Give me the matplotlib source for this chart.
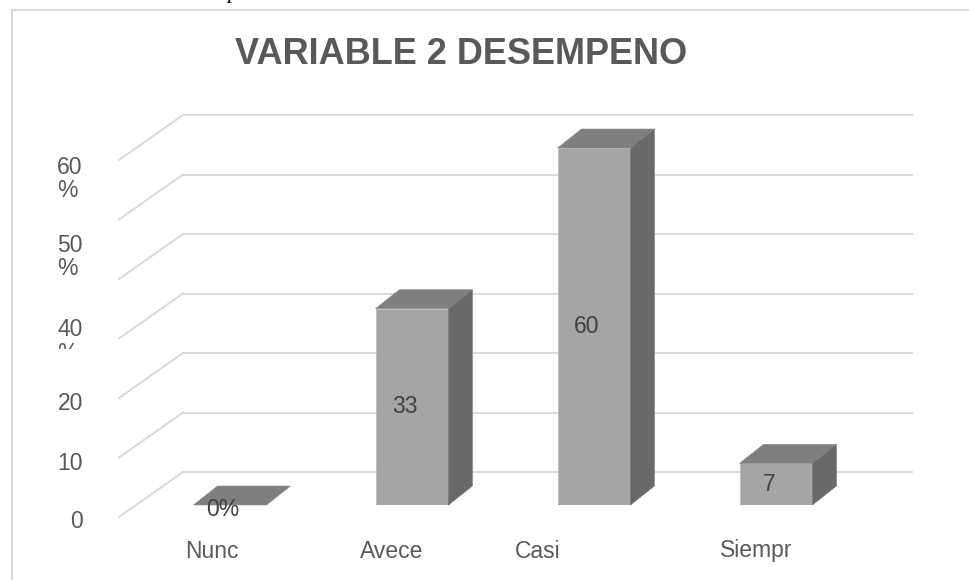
import numpy as np
import matplotlib
matplotlib.use("Agg")
import matplotlib.pyplot as plt
from matplotlib.patches import Polygon
from matplotlib.lines import Line2D
from matplotlib.transforms import Bbox, TransformedBbox

plt.rcParams['font.family'] = ['Liberation Sans', 'DejaVu Sans']

# data
categorias = ['Nunc', 'Avece', 'Casi', 'Siempr']
valores = [0, 33, 60, 7]
etiquetas = ['0%', '33', '60', '7']
ticks_y = [0, 10, 20, 30, 40, 50, 60]
ticks_txt = ['0', '10', '20', '40\n%', '50\n%', '60\n%']

W, H = 969, 580
fig = plt.figure(figsize=(W / 100, H / 100), dpi=100)

# axes placed so that bar fronts sit where the reference has them
ax = fig.add_axes([139 / W, (H - 505) / H, 728 / W, 357 / H])
ax.set_xlim(-0.5, 3.5)
ax.set_ylim(0, 60)
ax.axis('off')

px_x = 182.0        # pixels per category
px_y = 357.0 / 60   # pixels per unit

def dx(p):
    return p / px_x

def dy(p):
    return p / px_y

grid_c = '#d9d9d9'
front_c = '#a5a5a5'
top_c = '#7f7f7f'
side_c = '#696969'

# back wall gridlines + side diagonals
xb0 = dx(183 - 139) - 0.5
xb1 = dx(912 - 139) - 0.5
for v in ticks_y:
    yb = v + dy(33)
    ax.plot([xb0, xb1], [yb, yb], color=grid_c, lw=1.4, clip_on=False, zorder=1)
    ax.plot([xb0 + dx(-64), xb0], [v + dy(-12), yb], color=grid_c, lw=1.4,
            clip_on=False, zorder=1)

# bars
bw = 73 / px_x
DX, DY = dx(24), dy(19)
x = np.arange(len(categorias))
ax.bar(x, valores, width=bw, color=front_c, edgecolor='#b4b4b4', lw=0.4, zorder=3)
for i, v in enumerate(valores):
    x0, x1 = i - bw / 2, i + bw / 2
    top = [(x0, v), (x1, v), (x1 + DX, v + DY), (x0 + DX, v + DY)]
    ax.add_patch(Polygon(top, closed=True, fc=top_c, ec='#8a8a8a', lw=0.4,
                         zorder=4, clip_on=False))
    if v > 0:
        side = [(x1, 0), (x1 + DX, DY), (x1 + DX, v + DY), (x1, v)]
        ax.add_patch(Polygon(side, closed=True, fc=side_c, ec='#7a7a7a', lw=0.4,
                             zorder=4, clip_on=False))
    ly = v / 2 if v > 0 else dy(-4)
    ax.text(i - dx(7), ly, etiquetas[i], ha='center', va='center',
            fontsize=16.5, color='#404040', zorder=6, clip_on=False)

# y labels (as shown in the reference)
txt_col = '#595959'
ypos = [521, 463, 403, 341.5, 257, 179]
for t, yp in zip(ticks_txt, ypos):
    if '\n' in t:
        tt = fig.text(57 / W, 1 - yp / H, t, ha='left', va='center',
                      fontsize=16.5, color=txt_col, linespacing=1.0,
                      multialignment='left')
        if t.startswith('40'):
            clip = TransformedBbox(Bbox.from_extents(0, 0, 1, 1 - 349 / H),
                                   fig.transFigure)
            clip = TransformedBbox(Bbox.from_extents(0, 1 - 349 / H, 1, 1),
                                   fig.transFigure)
            tt.set_clip_box(clip)
            tt.set_clip_on(True)
    else:
        fig.text(83 / W, 1 - yp / H, t, ha='right', va='center',
                 fontsize=16.5, color=txt_col)

# category labels
xcat = [212, 392, 538, 756]
for c, xc in zip(categorias, xcat):
    fig.text(xc / W, 1 - 551 / H, c, ha='center', va='center',
             fontsize=16.5, color=txt_col)

# title
fig.text(461 / W, 1 - 55 / H, 'VARIABLE 2 DESEMPENO', ha='center', va='center',
         fontsize=26, fontweight='bold', color=txt_col)

# chart frame (left and top edges visible)
fig.add_artist(Line2D([12 / W, 12 / W], [0, 1 - 10 / H], color=grid_c, lw=1.5,
                      transform=fig.transFigure))
fig.add_artist(Line2D([12 / W, 1], [1 - 10 / H, 1 - 10 / H], color=grid_c, lw=1.5,
                      transform=fig.transFigure))

# descender of caption text above the chart
fig.text(233 / W, 1 + 2 / H, 'p', ha='center', va='baseline', fontsize=16,
         family='Liberation Serif', style='italic', color='black')

fig.savefig('out.png', dpi=100)
